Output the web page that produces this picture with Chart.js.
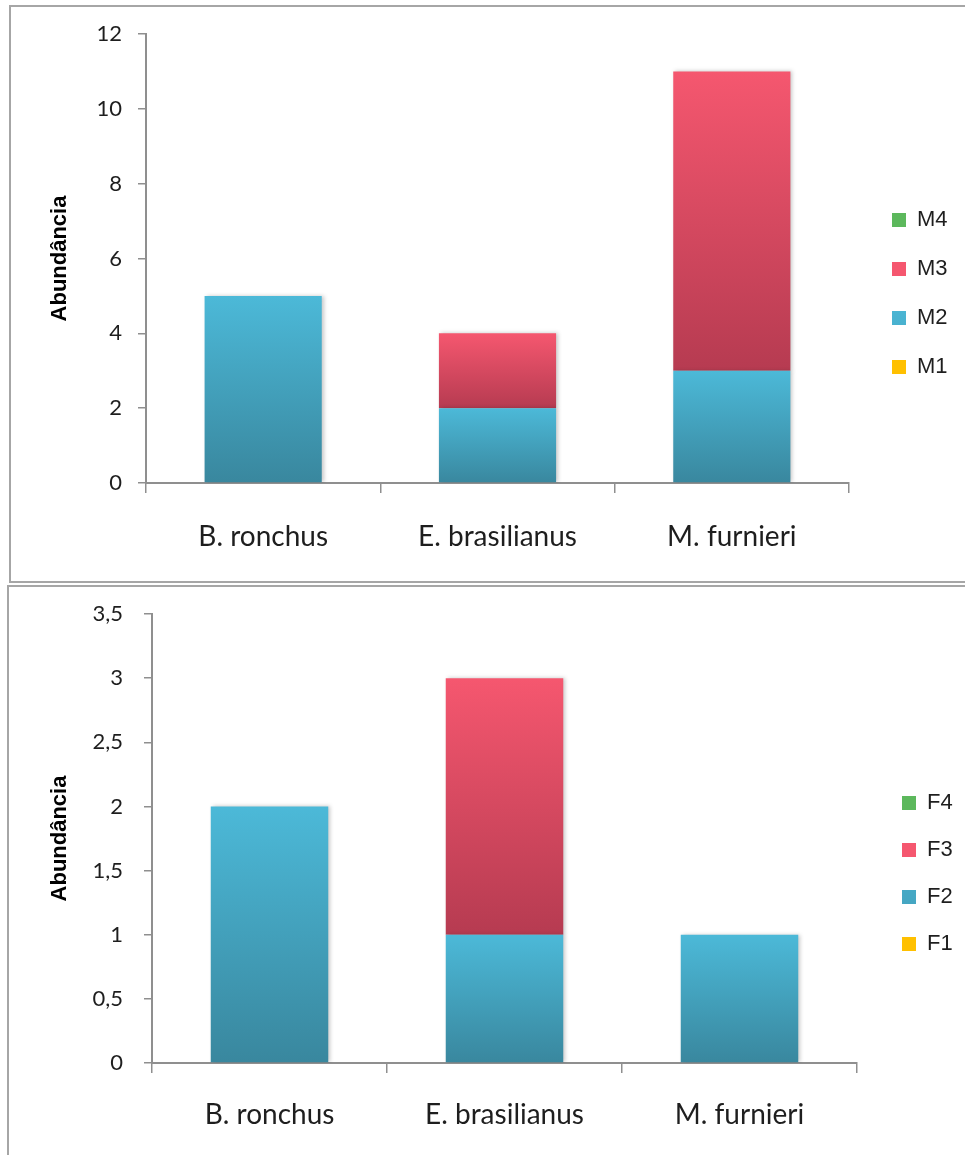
<!DOCTYPE html>
<html>
<head>
<meta charset="utf-8">
<script src="https://cdn.jsdelivr.net/npm/chart.js@4/dist/chart.umd.min.js"></script>
<style>
  html, body { margin: 0; padding: 0; background: #ffffff; }
  body { position: relative; width: 965px; height: 1155px; overflow: hidden; }
  .frame { position: absolute; border: 2px solid #a6a6a6; box-sizing: content-box; }
  #frameMale { left: 9px; top: 5px; width: 990px; height: 574px; }
  #frameFemale { left: 7px; top: 585px; width: 990px; height: 600px; }
  canvas { position: absolute; left: 0; }
  #chartMale { top: 0; }
  #chartFemale { top: 587px; }
</style>
</head>
<body>
<div class="frame" id="frameMale"></div>
<div class="frame" id="frameFemale"></div>
<canvas id="chartMale" width="965" height="583"></canvas>
<canvas id="chartFemale" width="965" height="568"></canvas>
<script>
// Species on the x axis
const species = ['B. ronchus', 'E. brasilianus', 'M. furnieri'];

// Abundance per stage, males (M1–M4)
const maleM1 = [0, 0, 0];
const maleM2 = [5, 2, 3];
const maleM3 = [0, 2, 8];
const maleM4 = [0, 0, 0];

// Abundance per stage, females (F1–F4)
const femaleF1 = [0, 0, 0];
const femaleF2 = [2, 1, 1];
const femaleF3 = [0, 2, 0];
const femaleF4 = [0, 0, 0];

// Axis ranges
const maleAxis = { max: 12, step: 2 };
const femaleAxis = { max: 3.5, step: 0.5 };

const yTitle = 'Abundância';

// Fill colours per stage: [top of bar, bottom of bar, legend swatch]
const stageColors = {
  s1: ['#ffc000', '#e29b00', '#f2ab00'],
  s2: ['#4cb9d8', '#39879e', '#45a8c5'],
  s3: ['#f5576f', '#b63b51', '#e04f68'],
  s4: ['#5cb85c', '#3f8f3f', '#4da64d']
};

const AXIS_GREY = '#8f8f8f';
const TEXT_DARK = '#1e1e1e';
const LEGEND_FONT = { family: 'Liberation Sans, Arial, sans-serif', size: 22 };
const LEGEND_BOX = 14;

// Vertical gradient spanning each stacked segment
function segmentFill(colors) {
  return function (c) {
    if (c.type !== 'data') return colors[2];
    const chart = c.chart;
    const y = chart.scales.y;
    if (!y || !chart.chartArea) return colors[0];
    const sets = chart.data.datasets;
    let base = 0;
    for (let k = 0; k < c.datasetIndex; k++) base += sets[k].data[c.dataIndex];
    const v = sets[c.datasetIndex].data[c.dataIndex];
    const y0 = y.getPixelForValue(base);
    const y1 = y.getPixelForValue(base + v);
    if (!isFinite(y0) || !isFinite(y1) || y0 === y1) return colors[0];
    const g = chart.ctx.createLinearGradient(0, y1, 0, y0);
    g.addColorStop(0, colors[0]);
    g.addColorStop(1, colors[1]);
    return g;
  };
}

function stageDataset(label, values, colors) {
  return {
    label: label,
    data: values,
    backgroundColor: segmentFill(colors),
    borderWidth: 0,
    categoryPercentage: 1.0,
    barPercentage: 0.5
  };
}

// Soft drop shadow under the bars
const barShadow = {
  id: 'barShadow',
  beforeDatasetsDraw(chart) {
    const ctx = chart.ctx;
    ctx.save();
    ctx.shadowColor = 'rgba(0,0,0,0.22)';
    ctx.shadowBlur = 4;
    ctx.shadowOffsetX = 2;
    ctx.shadowOffsetY = 0;
  },
  afterDatasetsDraw(chart) {
    chart.ctx.restore();
  }
};

// Width the legend takes for its widest label
function legendWidth(labels, gap) {
  const c = document.createElement('canvas').getContext('2d');
  c.font = LEGEND_FONT.size + 'px ' + LEGEND_FONT.family;
  let w = 0;
  labels.forEach(t => { w = Math.max(w, c.measureText(t).width); });
  return gap + LEGEND_BOX + LEGEND_FONT.size / 2 + w + 10;
}

function buildChart(canvasId, sets, axis, geo) {
  const fmt = v => String(v).replace('.', ',');
  const canvas = document.getElementById(canvasId);
  const lw = legendWidth(sets.map(s => s.label), geo.legendGap);
  const legendLeft = geo.legendBoxX - geo.legendGap;
  const padRight = canvas.width - legendLeft - lw;
  const gapRight = legendLeft - geo.plotRight;
  return new Chart(canvas, {
    type: 'bar',
    data: { labels: species, datasets: sets },
    plugins: [barShadow],
    options: {
      responsive: false,
      animation: false,
      events: [],
      layout: { padding: { top: geo.padTop, bottom: geo.padBottom, left: 0, right: padRight } },
      plugins: {
        tooltip: { enabled: false },
        legend: {
          position: 'right',
          reverse: true,
          labels: {
            boxWidth: LEGEND_BOX,
            boxHeight: LEGEND_BOX,
            padding: geo.legendGap,
            color: TEXT_DARK,
            font: LEGEND_FONT
          }
        }
      },
      scales: {
        x: {
          stacked: true,
          afterFit: s => { s.height = geo.xHeight; },
          grid: {
            offset: true,
            drawOnChartArea: false,
            drawTicks: true,
            tickLength: 10,
            color: AXIS_GREY,
            lineWidth: 1.5
          },
          border: { display: true, color: AXIS_GREY, width: 2 },
          ticks: {
            padding: geo.xLabelPad,
            color: TEXT_DARK,
            font: { family: 'Lato, sans-serif', size: 28 }
          }
        },
        y: {
          stacked: true,
          min: 0,
          max: axis.max,
          afterFit: s => {
            s.width = geo.yWidth;
            s.paddingTop = 0;
            s.paddingBottom = 0;
          },
          grid: {
            drawOnChartArea: false,
            drawTicks: true,
            tickLength: 8,
            color: AXIS_GREY,
            lineWidth: 1.5
          },
          border: { display: true, color: AXIS_GREY, width: 2 },
          ticks: {
            stepSize: axis.step,
            padding: geo.yLabelPad,
            color: TEXT_DARK,
            font: { family: 'Lato, sans-serif', size: 22 },
            callback: v => fmt(v)
          },
          title: {
            display: true,
            text: yTitle,
            color: '#000000',
            padding: { top: geo.titleOffset, bottom: 0 },
            font: { family: 'Liberation Sans, Arial, sans-serif', size: 22, weight: 'bold' }
          }
        },
        gap: {
          type: 'linear',
          position: 'right',
          display: true,
          afterFit: s => { s.width = gapRight; s.paddingTop = 0; s.paddingBottom = 0; },
          grid: { display: false, drawTicks: false },
          border: { display: false },
          ticks: { display: false }
        }
      }
    }
  });
}

buildChart('chartMale', [
  stageDataset('M1', maleM1, stageColors.s1),
  stageDataset('M2', maleM2, stageColors.s2),
  stageDataset('M3', maleM3, stageColors.s3),
  stageDataset('M4', maleM4, stageColors.s4)
], maleAxis, {
  padTop: 34, padBottom: 30, plotRight: 849, legendBoxX: 892,
  xHeight: 70, yWidth: 146, xLabelPad: 27, yLabelPad: 16,
  titleOffset: 47, legendGap: 27
});

buildChart('chartFemale', [
  stageDataset('F1', femaleF1, stageColors.s1),
  stageDataset('F2', femaleF2, stageColors.s2),
  stageDataset('F3', femaleF3, stageColors.s3),
  stageDataset('F4', femaleF4, stageColors.s4)
], femaleAxis, {
  padTop: 27, padBottom: 22, plotRight: 857, legendBoxX: 902,
  xHeight: 70, yWidth: 152, xLabelPad: 25, yLabelPad: 21,
  titleOffset: 47, legendGap: 25
});
</script>
</body>
</html>
